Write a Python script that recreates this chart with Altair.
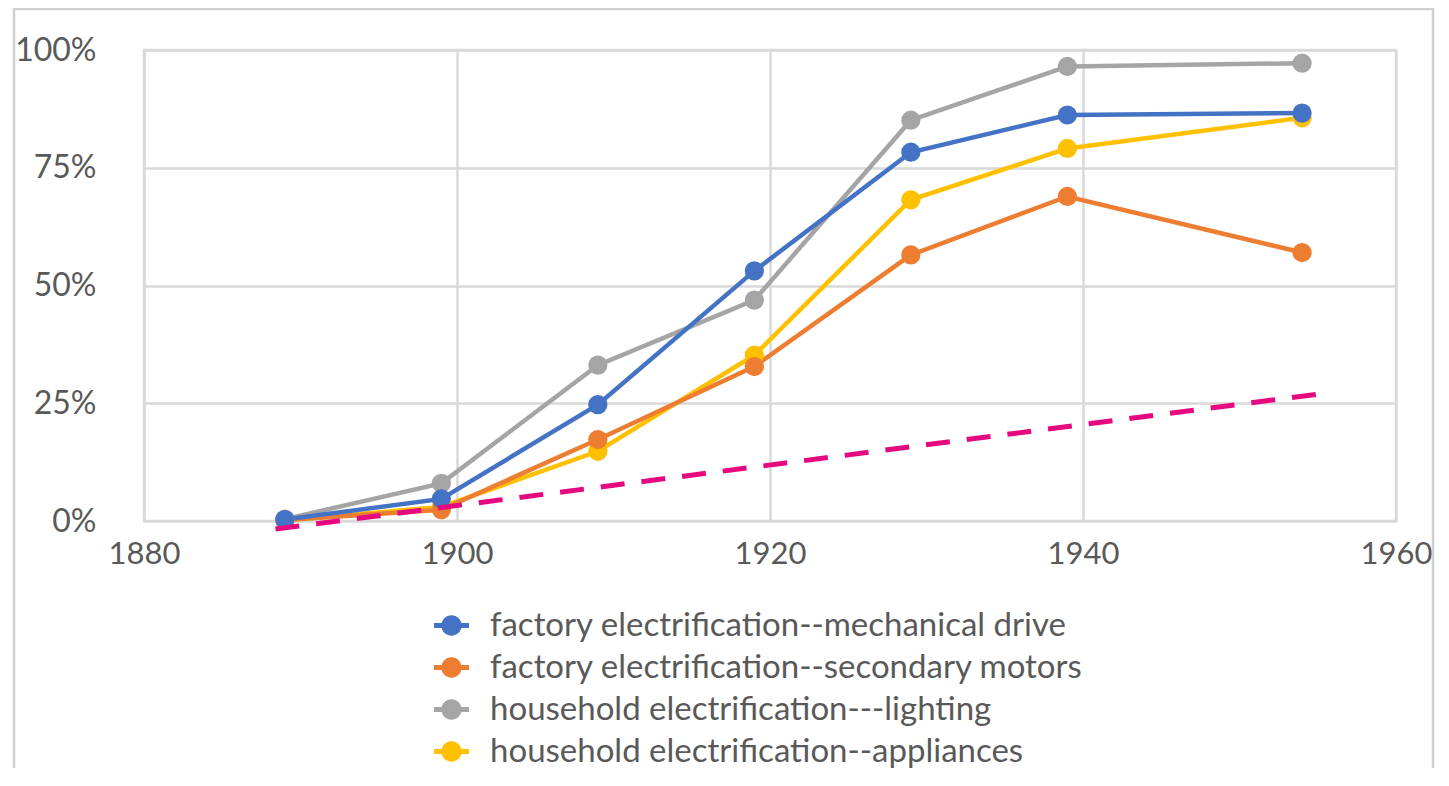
import altair as alt
import pandas as pd

# ---- data ----
years = [1889, 1899, 1909, 1919, 1929, 1939, 1954]
series_names = [
    "factory electrification--mechanical drive",
    "factory electrification--secondary motors",
    "household electrification---lighting",
    "household electrification--appliances",
]
mechanical_drive = [0.003, 0.047, 0.247, 0.531, 0.783, 0.862, 0.866]
secondary_motors = [0.002, 0.024, 0.173, 0.328, 0.565, 0.689, 0.570]
lighting = [0.004, 0.080, 0.331, 0.469, 0.851, 0.965, 0.972]
appliances = [0.001, 0.030, 0.148, 0.352, 0.682, 0.791, 0.856]
series_colors = ["#4472C4", "#ED7D31", "#A5A5A5", "#FFC000"]

trend_years = [1888.4, 1955.4]
trend_values = [-0.017, 0.271]

x_ticks = [1880, 1900, 1920, 1940, 1960]
y_ticks = [0, 0.25, 0.5, 0.75, 1.0]

# ---- tables ----
values_by_series = dict(zip(series_names, [mechanical_drive, secondary_motors, lighting, appliances]))
draw_order = [series_names[3], series_names[2], series_names[1], series_names[0]]
rows = []
for s in draw_order:
    for yr, v in zip(years, values_by_series[s]):
        rows.append({"series": s, "year": yr, "share": v, "ord": draw_order.index(s)})
df = pd.DataFrame(rows)
trend_df = pd.DataFrame({"year": trend_years, "share": trend_values})

FONT = "Lato"
TEXT = "#595959"
GRID = "#D9D9D9"

# legend symbol: marker circle with short line stubs (like a line+marker key)
LEGEND_SYMBOL = (
    "M-1,-0.14 L1,-0.14 L1,0.14 L-1,0.14 Z "
    "M-0.58,0 A0.58,0.58 0 1,1 0.58,0 A0.58,0.58 0 1,1 -0.58,0 Z"
)

x_enc = alt.X(
    "year:Q",
    scale=alt.Scale(domain=[1880, 1960], nice=False, zero=False),
    axis=alt.Axis(values=x_ticks, format="d", title=None, grid=True, labelFlush=False),
)
y_enc = alt.Y(
    "share:Q",
    scale=alt.Scale(domain=[0, 1], nice=False),
    axis=alt.Axis(values=y_ticks, format=".0%", title=None, grid=True, labelFlush=False),
)
color_scale = alt.Scale(domain=series_names, range=series_colors)
color_enc = alt.Color(
    "series:N",
    scale=color_scale,
    legend=alt.Legend(
        title=None,
        orient="none",
        legendX=290,
        legendY=558,
        direction="vertical",
        labelFontSize=33,
        labelFont=FONT,
        labelColor=TEXT,
        labelLimit=1000,
        labelOffset=21,
        symbolType=LEGEND_SYMBOL,
        symbolSize=1225,
        symbolStrokeWidth=0,
        rowPadding=7,
        padding=0,
    ),
)

base = alt.Chart(df)
lines = base.mark_line(strokeWidth=4.5).encode(
    x=x_enc, y=y_enc, color=color_enc, detail="series:N", order="year:Q"
)
points = base.mark_point(filled=True, size=370, opacity=1).encode(
    x=x_enc, y=y_enc,
    color=alt.Color("series:N", scale=color_scale, legend=None),
    order=alt.Order("ord:Q"),
)
trend = alt.Chart(trend_df).mark_line(
    color="#E5087E", strokeWidth=5, strokeDash=[24, 17], clip=False
).encode(x="year:Q", y="share:Q")

frame = alt.Chart(pd.DataFrame({"k": [0]})).mark_rect(
    fill=None, stroke="#D0D0D0", strokeWidth=2.5, clip=False
).encode(
    x=alt.value(-130), x2=alt.value(1289), y=alt.value(-41), y2=alt.value(760)
)

chart = (
    alt.layer(frame, lines, points, trend)
    .properties(
        width=1252,
        height=471,
        autosize=alt.AutoSizeParams(type="none"),
        padding={"left": 136, "top": 42, "right": 45, "bottom": 247},
    )
    .configure_view(stroke=GRID, strokeWidth=2.5)
    .configure_axis(
        domain=False,
        ticks=False,
        gridColor=GRID,
        gridWidth=2.5,
        labelFont=FONT,
        labelFontSize=32,
        labelColor=TEXT,
    )
    .configure_axisX(labelPadding=18, labelFontSize=31)
    .configure_axisY(labelPadding=48)
)

chart.save("out.html", embed_options={"renderer": "svg", "actions": False})
